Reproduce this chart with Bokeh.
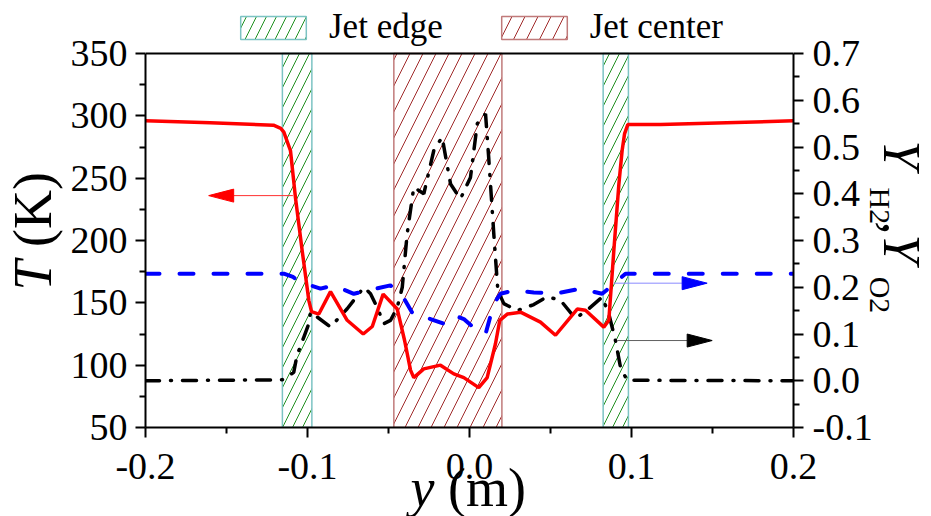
import math
from bokeh.plotting import figure
from bokeh.models import (Range1d, LinearAxis, FixedTicker, PrintfTickFormatter,
                          Legend, LegendItem, Title, Span)
from bokeh.embed import file_html
from bokeh.resources import INLINE

# ---------------- data ----------------
# Temperature T (K) vs y (m)
x_T = [-0.2, -0.16, -0.121, -0.1165, -0.1146, -0.1105, -0.1074, -0.1033, -0.0992, -0.0975,
       -0.093, -0.0858, -0.0755, -0.0656, -0.060, -0.0533, -0.0446, -0.0401, -0.0364, -0.0344,
       -0.0282, -0.0179, -0.0097, -0.0035, 0.0057, 0.0109, 0.016, 0.0187, 0.0233, 0.0315,
       0.0438, 0.0531, 0.0665, 0.0716, 0.0829, 0.086, 0.0891, 0.0922, 0.0942, 0.0957,
       0.0977, 0.118, 0.2]
T_vals = [296, 294.5, 292.5, 290, 287, 272, 234, 192, 152, 143,
          141, 159, 136, 125, 131, 157, 145, 120, 96, 90,
          97, 100, 93, 90, 82, 90, 117, 136, 141, 142.5,
          134.5, 124, 145, 144, 130.5, 136, 192, 245, 272, 285.5,
          293, 293, 296]

# H2 mass fraction
x_H2 = [-0.2, -0.1156, -0.1085, -0.1065, -0.1023, -0.0992, -0.0981, -0.0858, -0.0755, -0.0652,
        -0.0611, -0.057, -0.0529, -0.0488, -0.0446, -0.0415, -0.0385, -0.0344, -0.0282, -0.022,
        -0.0169, -0.0117, -0.0056, 0.0006, 0.0048, 0.0099, 0.0119, 0.015, 0.0175, 0.0212,
        0.0294, 0.0397, 0.048, 0.0562, 0.0654, 0.0736, 0.0819, 0.086, 0.0901, 0.0932,
        0.0973, 0.2]
Y_H2 = [0.0, 0.002, 0.018, 0.054, 0.093, 0.122, 0.147, 0.115, 0.154, 0.200,
        0.186, 0.157, 0.122, 0.129, 0.157, 0.200, 0.314, 0.414, 0.400, 0.493,
        0.521, 0.421, 0.389, 0.435, 0.550, 0.571, 0.475, 0.314, 0.193, 0.165,
        0.150, 0.163, 0.180, 0.172, 0.133, 0.154, 0.179, 0.143, 0.086, 0.029,
        0.001, 0.0]

# O2 mass fraction
x_O2 = [-0.2, -0.1146, -0.109, -0.1043, -0.092, -0.0838, -0.0714, -0.0632, -0.0488, -0.0415,
        -0.0344, -0.0241, -0.0159, -0.0097, -0.0035, 0.0048, 0.0099, 0.015, 0.0191, 0.0274,
        0.0397, 0.0541, 0.0685, 0.0819, 0.0891, 0.0963, 0.2]
Y_O2 = [0.229, 0.229, 0.222, 0.211, 0.197, 0.204, 0.186, 0.193, 0.204, 0.182,
        0.140, 0.132, 0.122, 0.140, 0.132, 0.107, 0.100, 0.165, 0.186, 0.193,
        0.189, 0.187, 0.197, 0.186, 0.207, 0.229, 0.229]

# shaded regions
edge_left = [-0.1155, 0.0825]
edge_right = [-0.0973, 0.0981]
center_left = [-0.0467]
center_right = [0.0200]

# axis ranges and ticks
x_lim = (-0.2, 0.2)
T_lim = (50, 350)
Y_lim = (-0.1, 0.7)
x_ticks = [-0.2, -0.1, 0.0, 0.1, 0.2]
x_minor = [-0.15, -0.05, 0.05, 0.15]
T_ticks = [50, 100, 150, 200, 250, 300, 350]
T_minor = [75, 125, 175, 225, 275, 325]
Y_ticks = [-0.1, 0.0, 0.1, 0.2, 0.3, 0.4, 0.5, 0.6, 0.7]
Y_minor = [-0.05, 0.05, 0.15, 0.25, 0.35, 0.45, 0.55, 0.65]

# arrows (level, start x, tip x)
arrow_T = (236, -0.109, -0.161)
arrow_O2 = (0.2087, 0.0891, 0.1467)
arrow_H2 = (0.086, 0.0912, 0.1498)

FONT = "Liberation Serif"
NB = "\u00a0"

# ---------------- layout ----------------
W, H = 931, 516
ML, MR, MB = 145, 138, 89
TOP_PAD = 53                      # room for the legend above the axes box
fw = W - ML - MR                  # 648
span_px = H - MB - TOP_PAD        # 374
px_x = fw / (x_lim[1] - x_lim[0])
px_T = span_px / (T_lim[1] - T_lim[0])
px_Y = span_px / (Y_lim[1] - Y_lim[0])

p = figure(width=W, height=H, output_backend="svg", toolbar_location=None,
           x_range=Range1d(*x_lim),
           y_range=Range1d(T_lim[0], T_lim[1] + TOP_PAD / px_T),
           min_border_left=ML, min_border_right=MR, min_border_top=0, min_border_bottom=MB)
p.extra_y_ranges = {"Y": Range1d(Y_lim[0], Y_lim[1] + TOP_PAD / px_Y)}
p.grid.visible = False
p.outline_line_color = None
p.background_fill_color = "white"
p.border_fill_color = "white"

# bands
g = p.quad(left=edge_left, right=edge_right, bottom=T_lim[0], top=T_lim[1],
           fill_color="white", fill_alpha=0, line_color="#7cc3c3", line_width=1.5,
           hatch_pattern="right_diagonal_line", hatch_color="#1f8f1f",
           hatch_scale=20, hatch_weight=1)
r = p.quad(left=center_left, right=center_right, bottom=T_lim[0], top=T_lim[1],
           fill_color="white", fill_alpha=0, line_color="#c07a7a", line_width=1.5,
           hatch_pattern="right_diagonal_line", hatch_color="#a02a2a",
           hatch_scale=26, hatch_weight=1)

# top border of the axes box
p.add_layout(Span(location=T_lim[1], dimension="width", line_color="black", line_width=2))

# curves
p.line(x_H2, Y_H2, y_range_name="Y", line_color="black", line_width=3.5,
       line_dash="14 11 1 11", line_cap="round")
p.line(x_O2, Y_O2, y_range_name="Y", line_color="#0000ff", line_width=4,
       line_dash="14 20", line_cap="round")
p.line(x_T, T_vals, line_color="#ff0000", line_width=3.5)

# arrows
def draw_arrow(arrow, color, line_color, py_unit, range_name=None):
    lvl, xs, xt = arrow
    head_len = 25 / px_x
    half_w = 6.5 / py_unit
    sign = 1 if xt > xs else -1
    base = xt - sign * head_len
    kw = {} if range_name is None else {"y_range_name": range_name}
    p.segment(x0=[xs], y0=[lvl], x1=[base], y1=[lvl], line_color=line_color, line_width=1, **kw)
    p.patches(xs=[[xt, base, base]], ys=[[lvl, lvl + half_w, lvl - half_w]],
              fill_color=color, line_color=color, **kw)

draw_arrow(arrow_T, "#ff0000", "#ff3030", px_T)
draw_arrow(arrow_O2, "#0000ff", "#8a8aff", px_Y, "Y")
draw_arrow(arrow_H2, "black", "#606060", px_Y, "Y")

# axes styling
def style_axis(ax, standoff):
    ax.axis_line_width = 2
    ax.major_tick_line_width = 2
    ax.minor_tick_line_width = 2
    ax.major_tick_out = 10
    ax.major_tick_in = 0
    ax.minor_tick_out = 6
    ax.minor_tick_in = 0
    ax.major_label_text_font = FONT
    ax.major_label_text_font_size = "38px"
    ax.major_label_text_color = "black"
    ax.major_label_standoff = standoff

p.xaxis.ticker = FixedTicker(ticks=x_ticks, minor_ticks=x_minor)
p.xaxis.formatter = PrintfTickFormatter(format="%.1f")
style_axis(p.xaxis[0], 16)
p.yaxis.ticker = FixedTicker(ticks=T_ticks, minor_ticks=T_minor)
p.yaxis.bounds = T_lim
style_axis(p.yaxis[0], 8)

ry = LinearAxis(y_range_name="Y", ticker=FixedTicker(ticks=Y_ticks, minor_ticks=Y_minor),
                formatter=PrintfTickFormatter(format="%.1f"), bounds=Y_lim)
style_axis(ry, 9)
p.add_layout(ry, "right")

# axis titles (side-panel titles; standoff sets the panel thickness)
def title(side, text, size, offset, standoff, italic=False):
    p.add_layout(Title(text=text, text_font=FONT, text_font_size=size,
                       text_font_style="italic" if italic else "normal",
                       text_color="black", align="left", vertical_align="middle",
                       offset=offset, standoff=standoff), side)

# left: spacer then T (K)
title("left", NB, "54px", 0, -27)
title("left", "T", "54px", 137, -62, italic=True)
title("left", NB + "(K)", "54px", 167, -62)

# right: subscripts, then main symbols
title("right", "H2" + NB * 7 + "O2", "30px", 187, -26)
title("right", "Y" + NB * 4 + ",Y", "52px", 140, -26, italic=True)

# bottom: spacer then y (m)
title("below", NB, "54px", 0, -56)
title("below", "y", "54px", 265, -62, italic=True)
title("below", NB + "(m)", "54px", 289, -62)

# legend (inside the extended box area, above the axes box)
legend = Legend(items=[LegendItem(label="Jet edge", renderers=[g]),
                       LegendItem(label="Jet center", renderers=[r])],
                orientation="horizontal", location=(87, 380),
                glyph_width=82, glyph_height=29, label_standoff=15, spacing=50,
                padding=0, margin=0, border_line_color=None, background_fill_alpha=0,
                label_text_font=FONT, label_text_font_size="35px", label_text_color="black")
p.add_layout(legend)

open("out.html", "w").write(file_html(p, INLINE))
